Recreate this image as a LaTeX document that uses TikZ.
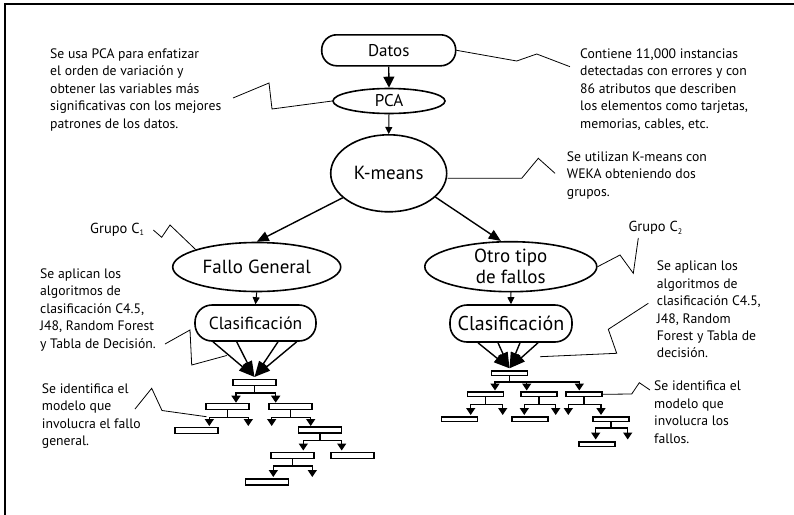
\documentclass[tikz,border=0pt]{standalone}
\usepackage{fontspec}
\setmainfont{PT Sans}
\usetikzlibrary{shapes.geometric,arrows.meta}
\begin{document}
\begin{tikzpicture}[x=1pt,y=-1pt,
  ell/.style={ellipse,draw,line width=1.6pt,inner sep=0pt},
  pill/.style={rectangle,draw,line width=1.6pt,inner sep=0pt},
  note/.style={anchor=north west,inner sep=0pt,align=left,font=\fontsize{13.7}{17.4}\selectfont},
  grp/.style={inner sep=0pt,font=\fontsize{14.5}{16}\selectfont},
  call/.style={line width=0.8pt},
  bigarr/.style={line width=1.4pt,-{Triangle[length=11pt,width=11pt]}},
  thinarr/.style={line width=1pt,-{Triangle[length=7pt,width=7pt]}},
  medarr/.style={line width=1.4pt,-{Triangle[length=12pt,width=10pt]}},
  fan/.style={line width=1.4pt,-{Triangle[length=16pt,width=10pt]}},
  tbox/.style={rectangle,draw,line width=1.5pt,inner sep=0pt,minimum width=43pt,minimum height=6pt},
  sbox/.style={rectangle,draw,line width=1.5pt,inner sep=0pt,minimum width=36pt,minimum height=4.5pt},
  tline/.style={line width=1.5pt},
  tarr/.style={line width=1.5pt,-{Triangle[length=7pt,width=9pt]}}
]
\useasboundingbox (0,0) rectangle (794,514);
\draw[line width=1.3pt] (5,520) -- (5,4) -- (800,4);

% main nodes
\node[pill,minimum width=134pt,minimum height=31pt,rounded corners=15pt,font=\fontsize{17}{20}\selectfont] (datos) at (388.7,50.3) {Datos};
\node[ell,minimum width=112pt,minimum height=25pt,font=\fontsize{17}{20}\selectfont] (pca) at (389,101) {PCA};
\node[ell,minimum width=116pt,minimum height=77pt,font=\fontsize{19}{22}\selectfont] (km) at (388.7,173.3) {K-means};
\node[ell,minimum width=168pt,minimum height=49pt,font=\fontsize{19}{22}\selectfont] (fg) at (256.7,267) {Fallo General};
\node[ell,minimum width=172pt,minimum height=50pt,align=center,font=\fontsize{19}{21}\selectfont] (ot) at (510.8,266.7) {Otro tipo\\de fallos};
\node[pill,minimum width=121pt,minimum height=36pt,rounded corners=17pt,font=\fontsize{17.5}{20}\selectfont] (cla) at (255.5,323) {Clasificación};
\node[pill,minimum width=122pt,minimum height=37pt,rounded corners=17pt,font=\fontsize{20}{23}\selectfont] (clb) at (511,323.5) {Clasificación};

% main arrows
\draw[bigarr] (datos.south) -- (pca.north);
\draw[thinarr] (pca.south) -- (km.north);
\draw[medarr] (km.208) -- (fg.north);
\draw[medarr] (km.333) -- ([xshift=-10pt]ot.north);
\draw[thinarr] (fg.south) -- (cla.north);
\draw[thinarr] (ot.south) -- (clb.north);

% left tree
\node[tbox] (LT0) at (254.5,382.7) {};
\node[tbox] (L1a) at (227.5,406.3) {};
\node[tbox] (L1b) at (290.3,406.3) {};
\node[tbox] (L2a) at (196.3,430.5) {};
\node[tbox] (R2) at (320,430) {};
\node[tbox] (R3a) at (292.5,455.5) {};
\node[tbox] (R3b) at (352.5,455.5) {};
\node[tbox] (R4) at (267,482) {};

\foreach \dx in {-42.5,-18.8,22.5,41.2}
  \draw[fan] ([xshift=\dx pt]cla.south) -- ([yshift=2pt]LT0.north);

\draw[tline] (LT0.south) -- ++(0,6.7) coordinate (b0);
\draw[tarr] (b0) -| (236,402.7);
\draw[tarr] (b0) -| (275.7,402.7);
\draw[tline] (L1a.south) -- ++(0,7.3) coordinate (b1);
\draw[tarr] (b1) -| (209.3,426);
\draw[tarr] (b1) -| (248.3,426);
\draw[tline] (L1b.south) -- ++(0,7.3) coordinate (b2);
\draw[tarr] (b2) -| (271.7,426);
\draw[tarr] (b2) -| (310.7,426);
\draw[tline] (R2.south) -- ++(0,6.7) coordinate (b3);
\draw[tarr] (b3) -| (303.3,450.5);
\draw[tarr] (b3) -| (341.7,450.5);
\draw[tline] (R3a.south) -- ++(0,6.5) coordinate (b4);
\draw[tarr] (b4) -| (273.3,477);
\draw[tarr] (b4) -| (312.3,477);

% right tree
\node[sbox] (RT0) at (509.5,373.3) {};
\node[sbox] (A1) at (485.3,394.3) {};
\node[sbox] (B1) at (538.8,394.3) {};
\node[sbox] (C1) at (583.8,394.3) {};
\node[sbox] (A2) at (459.7,419.2) {};
\node[sbox] (B2) at (530,419.2) {};
\node[sbox] (C2) at (611.2,419.2) {};
\node[sbox] (C3) at (597.2,444) {};

\foreach \dx in {-33,-13,9,27}
  \draw[fan] ([xshift=\dx pt]clb.south) -- ([yshift=2pt]RT0.north);

\draw[tline] (RT0.south) -- ++(0,5.7) coordinate (c0);
\draw[tarr] (c0) -| (495,390.5);
\draw[tarr] (c0) -| (526.7,390.5);
\draw[tarr] (c0) -| (579.3,390.5);
\draw[tline] (A1.south) -- ++(0,7) coordinate (c1);
\draw[tarr] (c1) -| (470.7,415);
\draw[tarr] (c1) -| (502.7,415);
\draw[tline] (B1.south) -- ++(0,7) coordinate (c2);
\draw[tarr] (c2) -| (524.3,415);
\draw[tarr] (c2) -| (555.7,415);
\draw[tline] (C1.south) -- ++(0,7) coordinate (c3);
\draw[tarr] (c3) -| (568.3,415);
\draw[tarr] (c3) -| (601,415);
\draw[tline] (C2.south) -- ++(0,6) coordinate (c4);
\draw[tarr] (c4) -| (595.7,439.5);
\draw[tarr] (c4) -| (627.7,439.5);

% notes
\node[note] (nA) at (50,48.5) {Se usa PCA para enfatizar\\el orden de variación y\\obtener las variables más\\significativas con los mejores\\patrones de los datos.};
\node[note] (nB) at (580,48.5) {Contiene 11,000 instancias\\detectadas con errores y con\\86 atributos que describen\\los elementos como tarjetas,\\memorias, cables, etc.};
\node[note] (nC) at (566.7,151.5) {Se utilizan K-means con\\WEKA obteniendo dos\\grupos.};
\node[note] (nD) at (40,268.5) {Se aplican los\\algoritmos de\\clasificación C4.5,\\J48, Random Forest\\y Tabla de Decisión.};
\node[note] (nE) at (41.7,383.5) {Se identifica el\\modelo que\\involucra el fallo\\general.};
\node[note] (nF) at (656.7,261) {Se aplican los\\algoritmos de\\clasificación C4.5,\\J48, Random\\Forest y Tabla de\\decisión.};
\node[note] (nG) at (654,381) {Se identifica el\\modelo que\\involucra los\\fallos.};
\node[grp,anchor=west] (g1) at (90,229.5) {Grupo C\raisebox{-2.5pt}{\fontsize{8}{8}\selectfont 1}};
\node[grp,anchor=west] (g2) at (628.3,228) {Grupo C\raisebox{-2.5pt}{\fontsize{8}{8}\selectfont 2}};

% callouts
\draw[call] (pca.west) -- (272,109) -- (269,83) -- (233,98);
\draw[call] (datos.east) -- (516.7,61) -- (536.7,54) -- (570,66.7);
\draw[call] ([yshift=-5pt]km.east) -- (521.7,178.3) -- (538.3,158.3) -- (555,173.3);
\draw[call] (fg.164) -- (170,225) -- (161.7,237.3) -- (153.3,230);
\draw[call] (ot.east) -- (620,255) -- (633.3,273.3) -- (638.3,238);
\draw[call] (226.7,355.5) -- (191.7,365) -- (190,330) -- (165,344);
\draw[call] (206.5,416.7) -- (162,410.5) -- (151.7,388.3) -- (135,409);
\draw[call] (540,356.7) -- (616.7,353.3) -- (608.3,329.3) -- (648.3,303.3);
\draw[call] (C1.east) -- (631.7,394) -- (639.3,382.7) -- (650,390);
\end{tikzpicture}
\end{document}
